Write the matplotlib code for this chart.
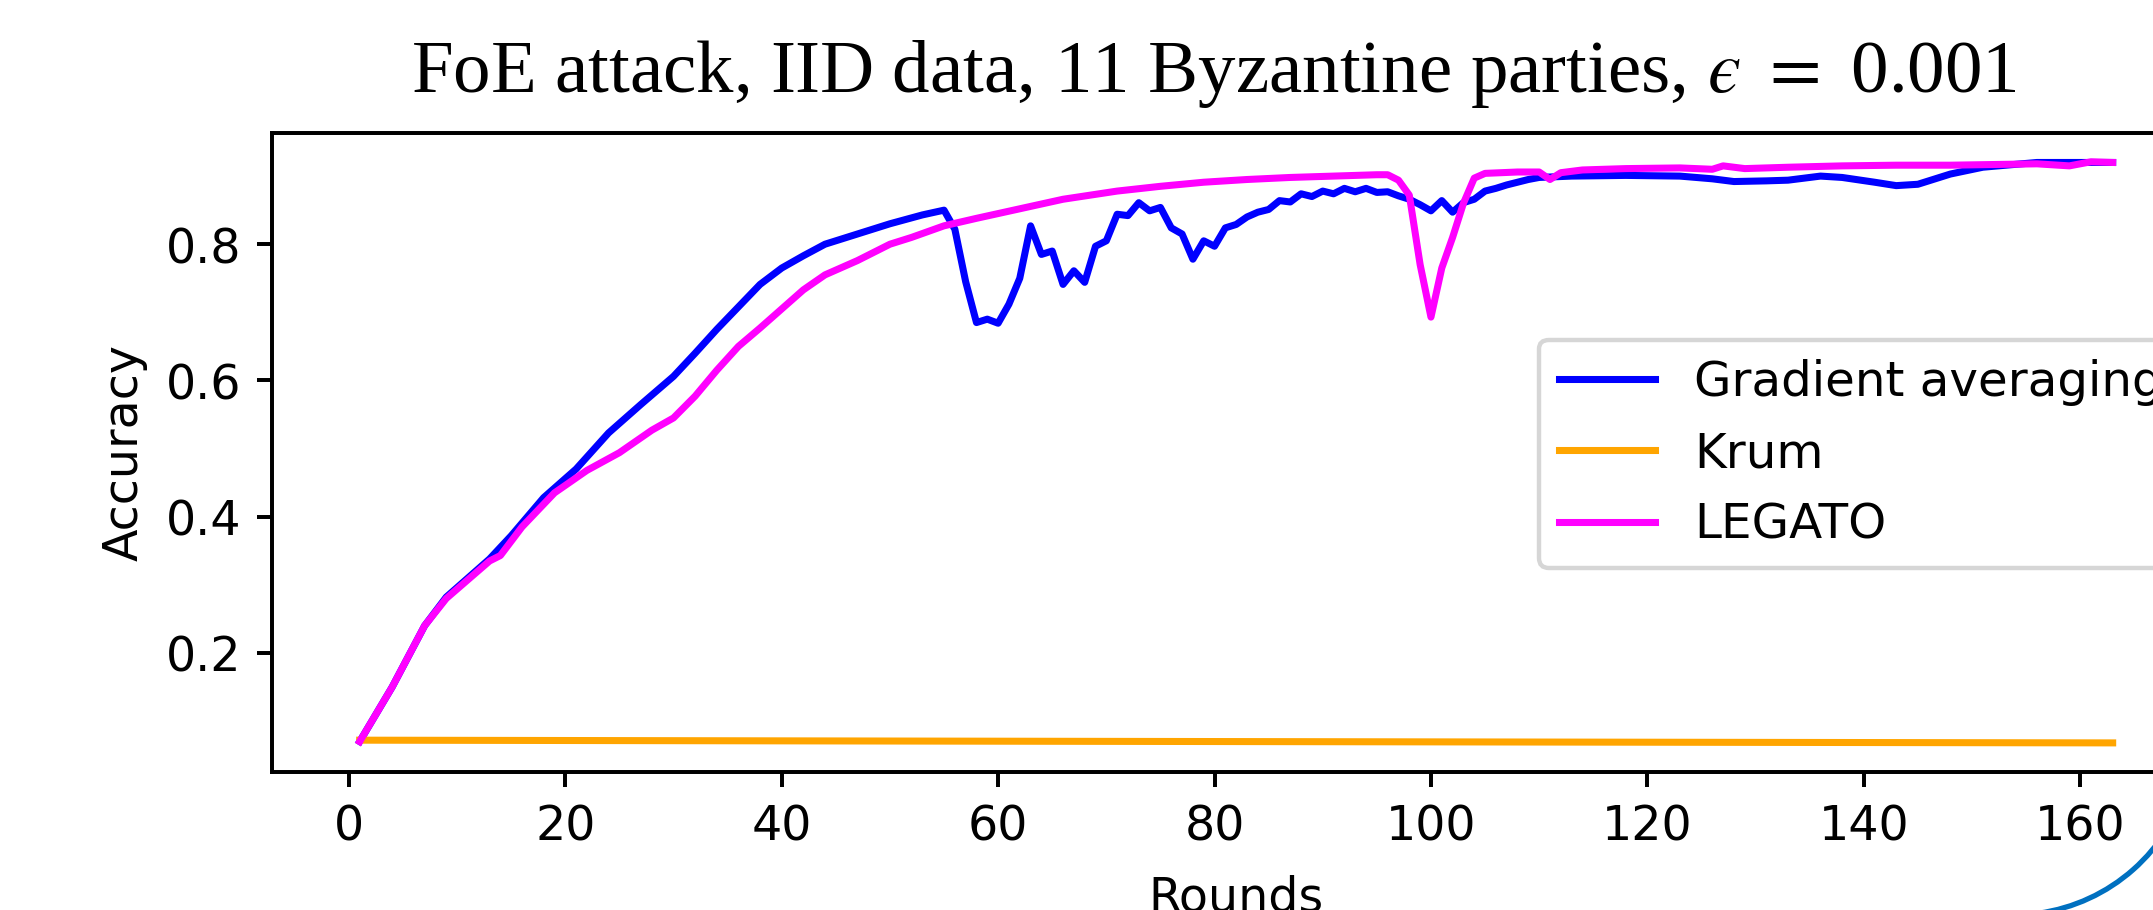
import matplotlib
matplotlib.use("Agg")
import matplotlib.pyplot as plt
from matplotlib.patches import Arc

# ---------------- data ----------------
ga_rounds = [1, 4, 7, 9, 13, 15, 18, 21, 24, 27, 30, 32, 34, 36, 38, 40, 42,
             44, 47, 50, 53, 55, 56, 57, 58, 59, 60, 61, 62, 63, 64, 65, 66,
             67, 68, 69, 70, 71, 72, 73, 74, 75, 76, 77, 78, 79, 80, 81, 82,
             83, 84, 85, 86, 87, 88, 89, 90, 91, 92, 93, 94, 95, 96, 97, 98,
             99, 100, 101, 102, 103, 104, 105, 106, 107, 108, 109, 110, 113,
             118, 123, 126, 128, 131, 133, 136, 138, 141, 143, 145, 148, 151,
             156, 159, 163]
ga_acc = [0.070, 0.150, 0.240, 0.282, 0.338, 0.372, 0.428, 0.470, 0.523,
          0.565, 0.606, 0.640, 0.675, 0.708, 0.741, 0.765, 0.783, 0.800,
          0.815, 0.830, 0.843, 0.850, 0.822, 0.745, 0.685, 0.690, 0.684,
          0.712, 0.750, 0.827, 0.785, 0.790, 0.741, 0.761, 0.744, 0.797,
          0.805, 0.844, 0.842, 0.861, 0.849, 0.854, 0.824, 0.815, 0.778,
          0.805, 0.797, 0.824, 0.829, 0.840, 0.847, 0.851, 0.864, 0.862,
          0.874, 0.870, 0.878, 0.874, 0.882, 0.877, 0.882, 0.876, 0.877,
          0.871, 0.866, 0.858, 0.849, 0.864, 0.847, 0.861, 0.866, 0.878,
          0.882, 0.887, 0.891, 0.895, 0.898, 0.900, 0.901, 0.900, 0.896,
          0.892, 0.893, 0.894, 0.900, 0.898, 0.891, 0.886, 0.888, 0.903,
          0.913, 0.920, 0.920, 0.920]

krum_rounds = [1, 40, 80, 120, 163]
krum_acc = [0.072, 0.071, 0.070, 0.069, 0.068]

legato_rounds = [1, 4, 7, 9, 13, 14, 16, 19, 22, 25, 28, 30, 32, 34, 36, 38,
                 40, 42, 44, 47, 50, 52, 55, 58, 62, 66, 71, 75, 79, 83, 87,
                 91, 95, 96, 97, 98, 99, 100, 101, 102, 103, 104, 105, 108,
                 110, 111, 112, 114, 118, 123, 126, 127, 129, 133, 138, 143,
                 148, 152, 156, 159, 161, 163]
legato_acc = [0.070, 0.150, 0.240, 0.280, 0.335, 0.343, 0.385, 0.435, 0.468,
              0.494, 0.527, 0.545, 0.577, 0.615, 0.650, 0.677, 0.705, 0.733,
              0.755, 0.776, 0.800, 0.810, 0.827, 0.838, 0.852, 0.866, 0.878,
              0.885, 0.891, 0.895, 0.898, 0.900, 0.902, 0.902, 0.894, 0.872,
              0.770, 0.693, 0.765, 0.810, 0.860, 0.897, 0.904, 0.906, 0.906,
              0.895, 0.905, 0.909, 0.911, 0.912, 0.910, 0.915, 0.911, 0.913,
              0.915, 0.916, 0.916, 0.917, 0.918, 0.915, 0.921, 0.920]

series_labels = ["Gradient averaging", "Krum", "LEGATO"]
series_colors = ["blue", "orange", "magenta"]
x_ticks = [0, 20, 40, 60, 80, 100, 120, 140, 160]
y_ticks = [0.2, 0.4, 0.6, 0.8]
x_label = "Rounds"
y_label = "Accuracy"
title_text = "FoE attack, IID data, 11 Byzantine parties, $\u03f5$ $=$ 0.001"

# ---------------- figure ----------------
W, H, DPI = 2153, 910, 317
plt.rcParams["mathtext.fontset"] = "stix"
plt.rcParams["axes.linewidth"] = 0.9
fig = plt.figure(figsize=(W / DPI + 0.001, H / DPI + 0.001), dpi=DPI)
fig.patch.set_facecolor("white")

ax = fig.add_axes([272 / W, (H - 772) / H, 1928 / W, (772 - 133) / H])
lw = 1.6
ax.plot(ga_rounds, ga_acc, color=series_colors[0], lw=lw, label=series_labels[0])
ax.plot(krum_rounds, krum_acc, color=series_colors[1], lw=lw, label=series_labels[1])
ax.plot(legato_rounds, legato_acc, color=series_colors[2], lw=lw, label=series_labels[2])
ax.set_xlabel(x_label, fontsize=10.8, labelpad=5.5)
ax.set_ylabel(y_label, fontsize=10.8)
ax.set_xticks(x_ticks)
ax.set_yticks(y_ticks)
ax.tick_params(labelsize=10.8, width=0.9)

ax.legend(loc="center left", bbox_to_anchor=(1539 / W, 1 - 454 / H),
          bbox_transform=fig.transFigure, borderaxespad=0, fontsize=11,
          borderpad=0.4)

fig.text(1213.5 / W, 1 - 92 / H, title_text, ha="center", va="baseline",
         fontsize=17.0, fontfamily="Liberation Serif")

# decorative arc in the lower-right corner
deco = fig.add_axes([0, 0, 1, 1], zorder=5)
deco.set_xlim(0, W)
deco.set_ylim(0, H)
deco.axis("off")
deco.patch.set_alpha(0)
deco.add_patch(Arc((2013, H - 734), 2 * 181, 2 * 181, theta1=-82, theta2=-15,
                   color="#0070C0", lw=1.2))

fig.savefig("out.png", dpi=DPI)
